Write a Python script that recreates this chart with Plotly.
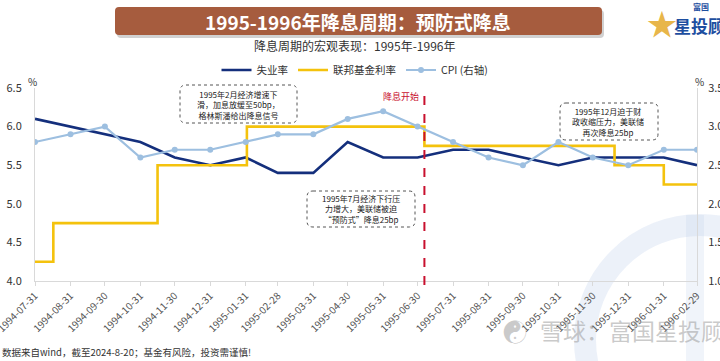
import plotly.graph_objects as go

# ---------------- data ----------------
months = ["1994-07-31", "1994-08-31", "1994-09-30", "1994-10-31", "1994-11-30", "1994-12-31",
          "1995-01-31", "1995-02-28", "1995-03-31", "1995-04-30", "1995-05-31", "1995-06-30",
          "1995-07-31", "1995-08-31", "1995-09-30", "1995-10-31", "1995-11-30", "1995-12-31",
          "1996-01-31", "1996-02-29"]
unemployment = [6.1, 6.0, 5.9, 5.8, 5.6, 5.5, 5.6, 5.4, 5.4, 5.8,
                5.6, 5.6, 5.7, 5.7, 5.6, 5.5, 5.6, 5.6, 5.6, 5.5]
cpi = [2.8, 2.9, 3.0, 2.6, 2.7, 2.7, 2.8, 2.9, 2.9, 3.1,
       3.2, 3.0, 2.8, 2.6, 2.5, 2.8, 2.6, 2.5, 2.7, 2.7]
fed_dates = ["1994-07-31", "1994-08-16", "1994-11-15", "1995-02-01", "1995-07-06",
             "1995-12-19", "1996-01-31", "1996-02-29"]
fed_rate = [4.25, 4.75, 5.50, 6.00, 5.75, 5.50, 5.25, 5.25]
cut_start = "1995-07-06"

NAVY = "#142f7c"
GOLD = "#f4c20d"
LBLUE = "#9dbfe0"
RED = "#c8102e"
FONT = "Noto Sans CJK SC"

W, H = 720, 361
L, R, T, B = 35, 23, 88, 80
PW, PH = W - L - R, H - T - B


def px(X):
    return (X - L) / PW


def py(Y):
    return (H - B - Y) / PH


fig = go.Figure()
fig.add_trace(go.Scatter(x=months, y=unemployment, name="失业率", mode="lines",
                         line=dict(color=NAVY, width=2.6)))
fig.add_trace(go.Scatter(x=fed_dates, y=fed_rate, name="联邦基金利率", mode="lines",
                         line=dict(color=GOLD, width=2.6, shape="hv")))
fig.add_trace(go.Scatter(x=months, y=cpi, name="CPI (右轴)", mode="lines+markers",
                         line=dict(color=LBLUE, width=2.2),
                         marker=dict(color=LBLUE, size=6), yaxis="y2"))

shapes = []
annotations = []


def rrect(x0, y0, x1, y1, r, **kw):
    path = (f"M {px(x0 + r)},{py(y0)} L {px(x1 - r)},{py(y0)} "
            f"Q {px(x1)},{py(y0)} {px(x1)},{py(y0 + r)} "
            f"L {px(x1)},{py(y1 - r)} Q {px(x1)},{py(y1)} {px(x1 - r)},{py(y1)} "
            f"L {px(x0 + r)},{py(y1)} Q {px(x0)},{py(y1)} {px(x0)},{py(y1 - r)} "
            f"L {px(x0)},{py(y0 + r)} Q {px(x0)},{py(y0)} {px(x0 + r)},{py(y0)} Z")
    d = dict(type="path", xref="paper", yref="paper", path=path)
    d.update(kw)
    return d


def note(X, Y, text, size, color, xanchor="center", bold=False, **kw):
    d = dict(xref="paper", yref="paper", x=px(X), y=py(Y), xanchor=xanchor,
             yanchor="middle", showarrow=False,
             text=f"<b>{text}</b>" if bold else text,
             font=dict(family=FONT, size=size, color=color))
    d.update(kw)
    annotations.append(d)


# faint background logo ring
shapes.append(dict(type="circle", xref="paper", yref="paper", layer="below",
                   x0=px(585), x1=px(815), y0=py(455), y1=py(225),
                   line=dict(color="rgba(185,205,232,0.28)", width=22)))
shapes.append(dict(type="rect", xref="paper", yref="paper", layer="below",
                   x0=px(686), x1=px(704), y0=py(361), y1=py(215),
                   fillcolor="rgba(185,205,232,0.22)", line=dict(width=0)))

# title bar with shadow
shapes.append(rrect(117, 10, 604, 38, 4, fillcolor="rgba(0,0,0,0.18)", line=dict(width=0)))
shapes.append(rrect(115, 7, 602, 35, 4, fillcolor="#a65c3e", line=dict(width=0)))
note(358, 21, "1995-1996年降息周期：预防式降息", 19, "white", bold=True)
note(354, 45, "降息周期的宏观表现：1995年-1996年", 12, "#333333")

# dashed boxes
boxes = [
    ((180, 85, 297, 123), 238, 104.5,
     ["1995年2月经济增速下", "滑，加息放缓至50bp，", "格林斯潘给出降息信号"]),
    ((307, 191, 415, 227), 361, 208.5,
     ["1995年7月经济下行压", "力增大，美联储被迫", "“预防式”降息25bp"]),
    ((560, 103, 658, 140), 608, 121.5,
     ["1995年12月迫于财", "政收缩压力，美联储", "再次降息25bp"]),
]
for (x0, y0, x1, y1), cx, cy, lines in boxes:
    shapes.append(rrect(x0, y0, x1, y1, 6, fillcolor="white",
                        line=dict(color="#555555", width=1, dash="dot")))
    note(cx, cy, "<br>".join(lines), 8.0, "#222222")

# cut start line
shapes.append(dict(type="line", xref="x", yref="paper", x0=cut_start, x1=cut_start,
                   y0=py(285), y1=py(89), line=dict(color=RED, width=2, dash="dash")))
annotations.append(dict(xref="x", yref="paper", x=cut_start, y=py(96), xanchor="right",
                        yanchor="middle", xshift=-3, showarrow=False, text="降息开始",
                        font=dict(family=FONT, size=9, color=RED)))

# % labels
note(32, 81, "%", 10, "#333333")
note(700, 81, "%", 10, "#333333")

# footnote
note(0, 352, "数据来自wind，截至2024-8-20；基金有风险，投资需谨慎!", 9.5, "#333333",
     xanchor="left")

# watermark
note(515, 330, "☯", 24, "rgba(150,150,150,0.5)")
note(538, 330, "雪球：富国星投顾", 23, "rgba(150,150,150,0.5)", xanchor="left")

# top-right logo
note(662, 22, "★", 30, "#e8b64a")
note(691, 6, "富国", 8, "#1d4ea0", xanchor="left", bold=True)
note(672, 26, "星投顾", 17, "#1d4ea0", xanchor="left", bold=True)

fig.update_layout(
    width=W, height=H,
    margin=dict(l=L, r=R, t=T, b=B, autoexpand=False),
    paper_bgcolor="white", plot_bgcolor="rgba(0,0,0,0)",
    font=dict(family=FONT, color="#333333"),
    showlegend=True,
    legend=dict(orientation="h", x=px(355), y=py(70), xanchor="center", yanchor="middle",
                font=dict(family=FONT, size=10.5, color="#333333"),
                bgcolor="rgba(0,0,0,0)", itemwidth=30, tracegroupgap=0),
    xaxis=dict(type="date", range=[months[0], months[-1]], automargin=False,
               tickmode="array", tickvals=months, ticktext=months, tickangle=-45,
               tickfont=dict(family=FONT, size=10, color="#555555"),
               ticklabeloverflow="allow",
               showgrid=False, zeroline=False, showline=True, linecolor="#d9d9d9",
               ticks="outside", ticklen=4, tickcolor="#d9d9d9"),
    yaxis=dict(range=[4.0, 6.5], dtick=0.5, tickformat=".1f", showgrid=False,
               automargin=False,
               zeroline=False, showline=True, linecolor="#d9d9d9",
               tickfont=dict(family=FONT, size=11, color="#333333"),
               ticklabelstandoff=10),
    yaxis2=dict(range=[1.0, 3.5], dtick=0.5, tickformat=".1f", overlaying="y", side="right",
                automargin=False,
                showgrid=False, zeroline=False, showline=True, linecolor="#d9d9d9",
                tickfont=dict(family=FONT, size=11, color="#333333"),
                ticklabelstandoff=8),
    shapes=shapes, annotations=annotations,
)

fig.write_html("out.html", config={"displayModeBar": False},
               post_script="document.body.style.margin='0';document.body.style.overflow='hidden';")
